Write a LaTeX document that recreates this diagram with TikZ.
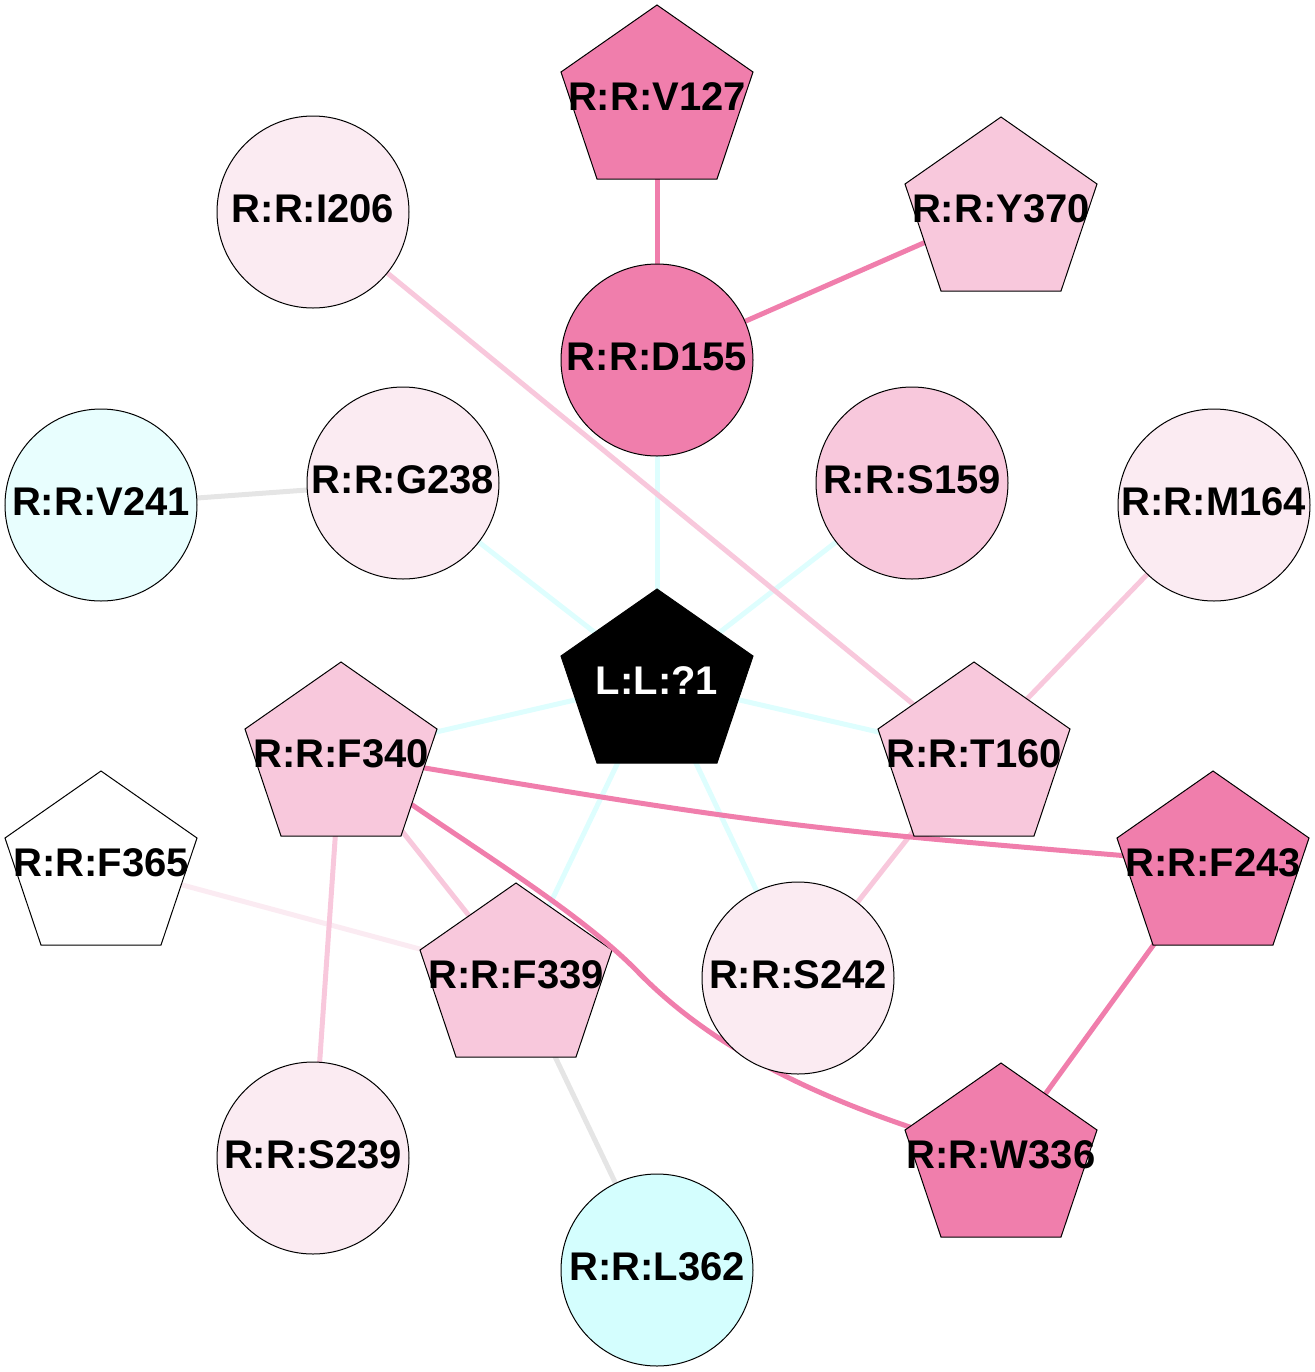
\documentclass[tikz,border=0pt]{standalone}
\usepackage{fontspec}
\setmainfont{Liberation Sans}
\usetikzlibrary{backgrounds}
\pgfdeclarelayer{mid}
\pgfsetlayers{background,mid,main}
\definecolor{pinkD}{RGB}{240,126,172}
\definecolor{pinkL}{RGB}{248,200,220}
\definecolor{pinkVL}{RGB}{251,235,242}
\definecolor{cyanA}{RGB}{232,254,254}
\definecolor{cyanB}{RGB}{212,254,254}
\definecolor{edgeCyan}{RGB}{222,254,254}
\definecolor{edgeGray}{RGB}{229,229,229}
\newcommand{\Lift}[1]{\raisebox{1.75pt}[\height][\depth]{#1}}
\tikzset{
  lbl/.style={inner sep=0pt, font=\fontsize{20}{20}\selectfont\bfseries},
  circ/.style={circle, draw=black, line width=0.5pt, minimum size=96pt, inner sep=0pt, font=\fontsize{20}{20}\selectfont\bfseries},
  pentline/.style={draw=black, line width=0.5pt},
  edge/.style={line width=2.5pt},
  eCyan/.style={edge, draw=edgeCyan},
  ePinkD/.style={edge, draw=pinkD},
  ePinkL/.style={edge, draw=pinkL},
  ePinkVL/.style={edge, draw=pinkVL},
  eGray/.style={edge, draw=edgeGray},
}
\newcommand{\Pent}[6]{%
  \filldraw[pentline, fill=#4] (#2,#3) -- ++(96,67) -- ++(-36,107) -- ++(-120,0) -- ++(-36,-107) -- cycle;
  \node[lbl, text=#6] (#1) at (#2,#3+92) {#5};}
\begin{document}
\begin{tikzpicture}[x=0.5pt,y=-0.5pt]
\useasboundingbox (0,0) rectangle (1315,1372);
% pentagons
\Pent{V127}{657}{5}{pinkD}{R:R:V127}{black}
\Pent{Y370}{1001}{117}{pinkL}{R:R:Y370}{black}
\Pent{L1}{657}{589}{black}{L:L:?1}{white}
\Pent{F340}{341}{662}{pinkL}{R:R:F340}{black}
\Pent{T160}{974}{662}{pinkL}{R:R:T160}{black}
\Pent{F365}{101}{771}{white}{R:R:F365}{black}
\Pent{F243}{1213}{771}{pinkD}{R:R:F243}{black}
\Pent{W336}{1001}{1063}{pinkD}{R:R:W336}{black}
\begin{pgfonlayer}{mid}
\Pent{F339}{516}{883}{pinkL}{R:R:F339}{black}
\end{pgfonlayer}
% circles
\node[circ, fill=pinkVL] (I206) at (313,212) {\Lift{R:R:I206}};
\node[circ, fill=pinkD] (D155) at (657,360) {\Lift{R:R:D155}};
\node[circ, fill=pinkVL] (G238) at (403,483) {\Lift{R:R:G238}};
\node[circ, fill=cyanA] (V241) at (101,505) {\Lift{R:R:V241}};
\node[circ, fill=pinkL] (S159) at (912,483) {\Lift{R:R:S159}};
\node[circ, fill=pinkVL] (M164) at (1214,505) {\Lift{R:R:M164}};
\node[circ, fill=pinkVL] (S242) at (798,978) {\Lift{R:R:S242}};
\node[circ, fill=pinkVL] (S239) at (313,1158) {\Lift{R:R:S239}};
\node[circ, fill=cyanB] (L362) at (657,1270) {\Lift{R:R:L362}};
\coordinate (bendW) at (640,974);
\begin{scope}[on background layer]
\draw[eCyan] (L1.center) -- (G238.center);
\draw[eCyan] (L1.center) -- (D155.center);
\draw[eCyan] (L1.center) -- (S159.center);
\draw[eCyan] (L1.center) -- (F340.center);
\draw[eCyan] (L1.center) -- (T160.center);
\draw[eCyan] (L1.center) -- (S242.center);
\draw[eCyan] (L1.center) -- (F339.center);
\draw[eGray] (V241.center) -- (G238.center);
\draw[eGray] (F339.center) -- (L362.center);
\draw[ePinkVL] (F365.center) -- (F339.center);
\draw[ePinkL] (I206.center) -- (T160.center);
\draw[ePinkL] (M164.center) -- (T160.center);
\draw[ePinkL] (T160.center) -- (S242.center);
\draw[ePinkL] (F340.center) -- (F339.center);
\draw[ePinkL] (F340.center) -- (S239.center);
\draw[ePinkD] (V127.center) -- (D155.center);
\draw[ePinkD] (D155.center) -- (Y370.center);
\draw[ePinkD] (F243.center) -- (W336.center);
\draw[ePinkD] (F340.center) .. controls (777,827) .. (F243.center);
\end{scope}
\begin{pgfonlayer}{mid}
\draw[ePinkD] (F340.center) .. controls (441,830) and (572,903) .. (bendW) .. controls (727,1062) and (851,1113) .. (W336.center);
\end{pgfonlayer}
\end{tikzpicture}
\end{document}
